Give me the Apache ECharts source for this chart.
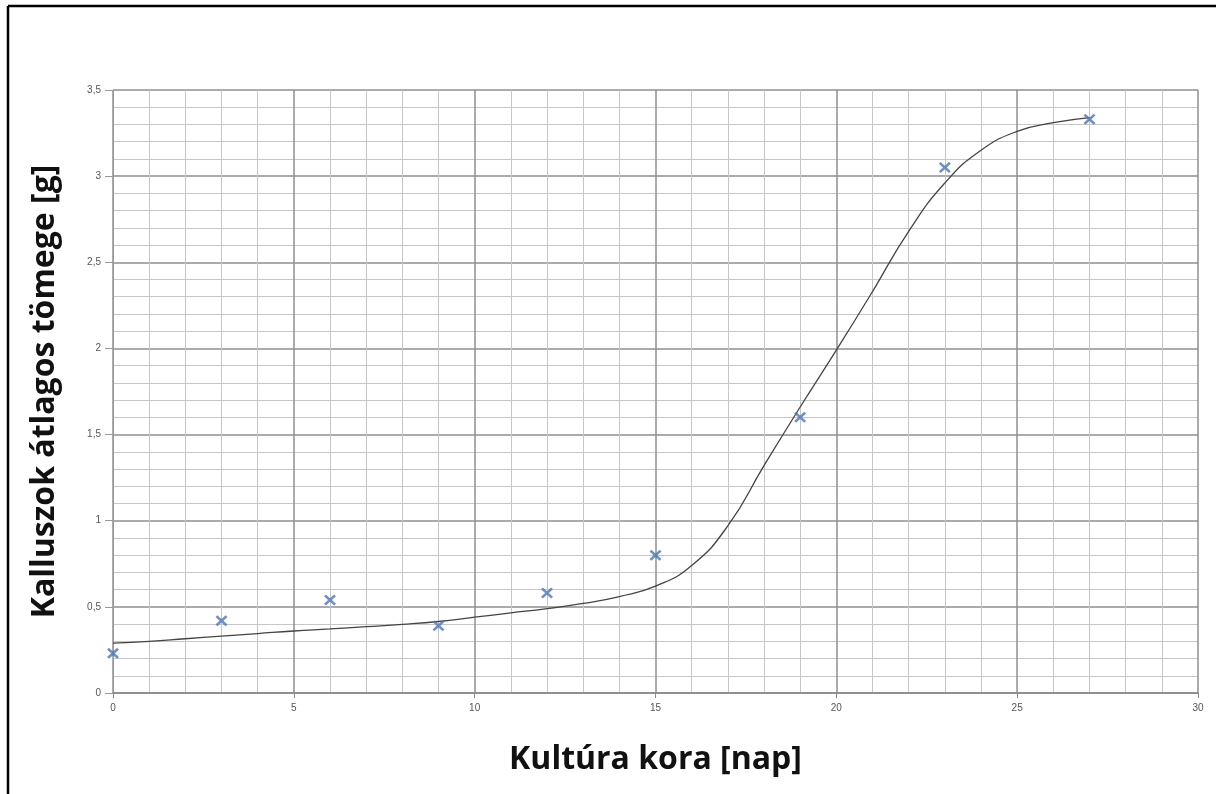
<!DOCTYPE html>
<html>
<head>
<meta charset="utf-8">
<script src="https://cdn.jsdelivr.net/npm/echarts@6/dist/echarts.min.js"></script>
<style>
  html, body { margin: 0; padding: 0; background: #fff; }
  #chart { width: 1216px; height: 794px; }
</style>
</head>
<body>
<div id="chart"></div>
<script>
// measured points (day, mean callus mass in g)
const measDays = [0, 3, 6, 9, 12, 15, 19, 23, 27];
const measMass = [0.23, 0.42, 0.54, 0.39, 0.58, 0.80, 1.60, 3.05, 3.33];

// fitted curve
const fitDays = [0, 1, 2, 3, 4, 5, 6, 7, 8, 9, 10, 11, 12, 13, 14, 15, 16, 17, 18, 19, 20, 21, 22, 23, 24, 25, 26, 27];
const fitMass = [0.29, 0.30, 0.315, 0.33, 0.345, 0.36, 0.372, 0.385, 0.398, 0.415, 0.44, 0.465, 0.49, 0.52, 0.56, 0.62, 0.74, 0.97, 1.32, 1.66, 1.99, 2.33, 2.68, 2.96, 3.15, 3.26, 3.31, 3.34];

const xTitle = "Kultúra kora [nap]";
const yTitle = "Kalluszok átlagos tömege [g]";

const fmt = v => String(v).replace(".", ",");
const crossPath = "path://M1.6,0L5,3.4L8.4,0L10,1.6L6.6,5L10,8.4L8.4,10L5,6.6L1.6,10L0,8.4L3.4,5L0,1.6Z";

const chart = echarts.init(document.getElementById("chart"));

chart.setOption({
  animation: false,
  grid: { left: 113, right: 18, top: 90, bottom: 101 },
  xAxis: {
    type: "value",
    min: 0,
    max: 30,
    interval: 5,
    name: xTitle,
    nameLocation: "middle",
    nameGap: 51,
    nameTextStyle: { fontFamily: "Open Sans", fontWeight: "bold", fontSize: 32, color: "#111" },
    axisLine: { lineStyle: { color: "#888", width: 1.5 } },
    axisTick: { show: true, length: 5, lineStyle: { color: "#888" } },
    axisLabel: { formatter: fmt, fontSize: 10, color: "#555", margin: 10 },
    splitLine: { show: true, lineStyle: { color: "#8f8f8f", width: 1.5 } },
    minorTick: { show: false, splitNumber: 5 },
    minorSplitLine: { show: true, lineStyle: { color: "#c6c6c6", width: 1 } }
  },
  yAxis: {
    type: "value",
    min: 0,
    max: 3.5,
    interval: 0.5,
    name: yTitle,
    nameLocation: "middle",
    nameGap: 52,
    nameTextStyle: { fontFamily: "Open Sans", fontWeight: "bold", fontSize: 32, color: "#111" },
    axisLine: { show: true, lineStyle: { color: "#999" } },
    axisTick: { show: true, length: 8, lineStyle: { color: "#999" } },
    axisLabel: { formatter: fmt, fontSize: 10, color: "#555", margin: 12 },
    splitLine: { show: true, lineStyle: { color: "#8f8f8f", width: 1.5 } },
    minorTick: { show: false, splitNumber: 5 },
    minorSplitLine: { show: true, lineStyle: { color: "#c6c6c6", width: 1 } }
  },
  series: [
    {
      type: "line",
      data: fitDays.map((d, i) => [d, fitMass[i]]),
      smooth: 0.5,
      showSymbol: false,
      lineStyle: { color: "#444", width: 1.3 },
      z: 2
    },
    {
      type: "scatter",
      data: measDays.map((d, i) => [d, measMass[i]]),
      symbol: crossPath,
      symbolSize: [12, 11],
      itemStyle: { color: "#4a76b8" },
      z: 3
    }
  ],
  graphic: [
    { type: "line", shape: { x1: 8, y1: 6, x2: 1216, y2: 6 }, style: { stroke: "#000", lineWidth: 2.5 } },
    { type: "line", shape: { x1: 8, y1: 6, x2: 8, y2: 794 }, style: { stroke: "#000", lineWidth: 2.5 } }
  ]
});
</script>
</body>
</html>
